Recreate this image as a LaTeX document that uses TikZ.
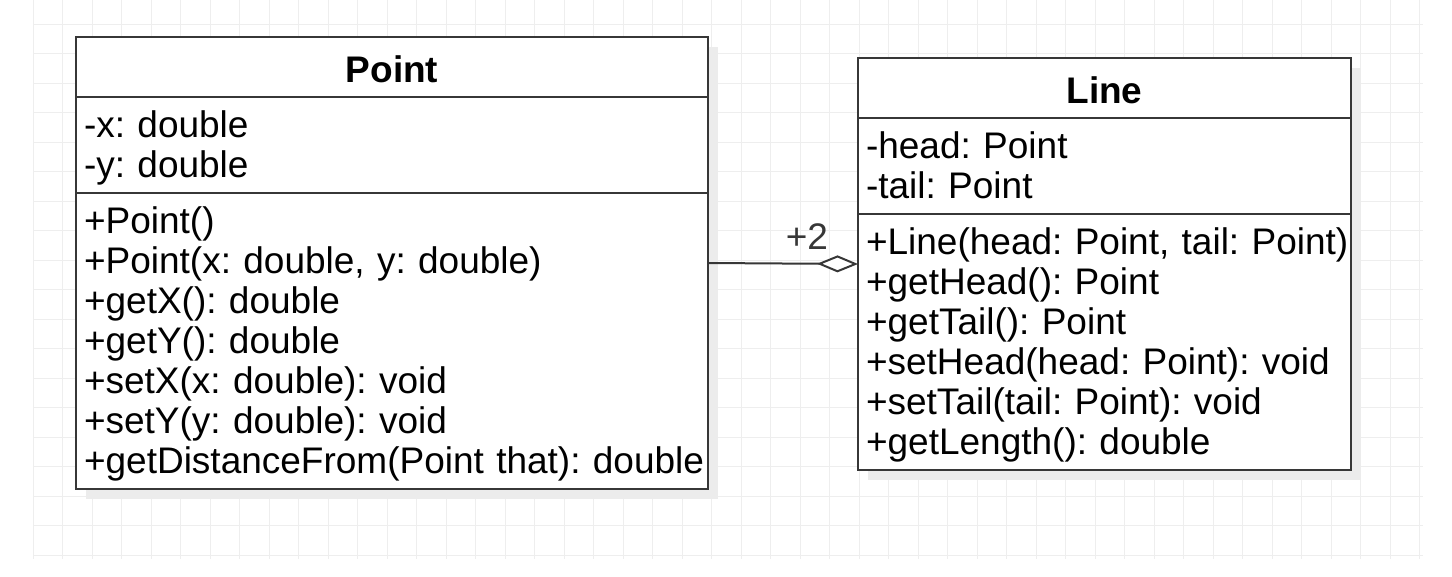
\documentclass[tikz,border=0pt]{standalone}
\usepackage{fontspec}
\setmainfont{Liberation Sans}
\usepackage{xcolor}
\usepackage{tikz}
\usetikzlibrary{arrows.meta,positioning,backgrounds}
\definecolor{gridgray}{RGB}{238,238,238}
\definecolor{shadowgray}{RGB}{236,236,236}
\definecolor{umlborder}{RGB}{55,55,55}
\frenchspacing
\hyphenpenalty=10000
\hfuzz=20pt

\begin{document}
\begin{tikzpicture}[x=1pt, y=-1pt,
  headbox/.style={draw=umlborder, line width=2pt, fill=white, anchor=north west, inner sep=0pt, outer sep=0pt,
    minimum height=60pt, text height=30pt, text depth=0pt, font=\fontsize{37}{40}\selectfont\bfseries},
  partbox/.style={draw=umlborder, line width=2pt, fill=white, anchor=north west, inner xsep=8pt, inner ysep=0pt, outer sep=0pt,
    align=left, text height=40pt, font=\fontsize{37}{40}\selectfont\frenchspacing},
  gridline/.style={gridgray, line width=1pt},
  assoc/.style={umlborder, line width=2pt, -{Diamond[fill=white, length=41pt, width=17pt]}},
  mult/.style={inner sep=0pt, font=\fontsize{37}{40}\selectfont}]

\useasboundingbox (0,0) rectangle (1452,576);

% ==========================================
% Class: Point
% ==========================================
\node[headbox, minimum width=632pt] (pointhead) at (76,37) {Point};
\node[partbox, text width=616pt, text depth=56pt] (pointattr) at (pointhead.south west) {-x: double\\-y: double};
\node[partbox, text width=616pt, text depth=256pt] (pointops) at (pointattr.south west) {+Point()\\+Point(x: double, y: double)\\+getX(): double\\+getY(): double\\+setX(x: double): void\\+setY(y: double): void\\\mbox{+getDistanceFrom(Point that): double}};

% ==========================================
% Class: Line
% ==========================================
\node[headbox, minimum width=493pt] (linehead) at (858,58) {Line};
\node[partbox, text width=477pt, text depth=56pt] (lineattr) at (linehead.south west) {-head: Point\\-tail: Point};
\node[partbox, text width=477pt, text depth=216pt] (lineops) at (lineattr.south west) {\mbox{+Line(head: Point, tail: Point)}\\+getHead(): Point\\+getTail(): Point\\+setHead(head: Point): void\\+setTail(tail: Point): void\\+getLength(): double};

% ==========================================
% Aggregation (Point -> Line)
% ==========================================
\draw[assoc] ([yshift=-70pt]pointops.north east) -- ([yshift=-50pt]lineops.north west)
  node[mult, pos=1, anchor=base east, xshift=-29pt, yshift=15pt] {+2};

% ==========================================
% Grid & Shadows (behind everything)
% ==========================================
\begin{scope}[on background layer]
  \foreach \gx in {0,...,47}
    \draw[gridline] ({33+29.5*\gx},0) -- ({33+29.5*\gx},559);
  \foreach \gy in {0,...,18}
    \draw[gridline] (33,{24+29.5*\gy}) -- (1423,{24+29.5*\gy});
  \fill[shadowgray] ([shift={(10,10)}]pointhead.north west) rectangle ([shift={(10,10)}]pointops.south east);
  \fill[shadowgray] ([shift={(10,10)}]linehead.north west) rectangle ([shift={(10,10)}]lineops.south east);
\end{scope}

\end{tikzpicture}
\end{document}
